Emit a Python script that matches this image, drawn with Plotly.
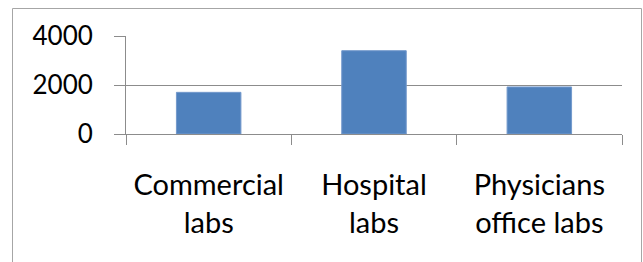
import plotly.graph_objects as go

categories = ["Commercial<br>labs", "Hospital<br>labs", "Physicians<br>office labs"]
values = [1700, 3400, 1920]
y_ticks = [0, 2000, 4000]

W, H = 643, 262
L, R, T, B = 126, 21, 36, 128
pw, ph = W - L - R, H - T - B

def px_x(x):
    return (x - L) / pw

def px_y(y):
    return (H - B - y) / ph

FONT = "Lato, Carlito, 'Open Sans', sans-serif"
GRID = "#8c8c8c"
TXT = "#000000"

fig = go.Figure(go.Bar(
    x=categories, y=values,
    marker=dict(color="#4f81bd", line=dict(color="#7399cc", width=1)),
))

fig.update_layout(
    template="none",
    width=W, height=H,
    margin=dict(l=L, r=R, t=T, b=B, pad=0, autoexpand=False),
    paper_bgcolor="white", plot_bgcolor="white",
    bargap=0.61,
    showlegend=False,
    font=dict(family=FONT, size=28, color=TXT),
    shapes=[dict(
        type="rect", xref="paper", yref="paper",
        x0=px_x(12.5), x1=px_x(641.5), y0=px_y(266), y1=px_y(8.5),
        line=dict(color="#a6a6a6", width=1), fillcolor="rgba(0,0,0,0)", layer="below",
    )],
)

fig.update_xaxes(
    type="category", range=[-0.5, 2.5], automargin=False,
    showline=True, linecolor=GRID, linewidth=1,
    ticks="outside", tickson="boundaries", ticklen=10, tickcolor=GRID, tickwidth=1,
    showgrid=False, ticklabelstandoff=25,
    tickfont=dict(family=FONT, size=29, color=TXT),
)
fig.update_yaxes(
    range=[0, 4000], tickvals=y_ticks, ticktext=[str(v) for v in y_ticks], automargin=False,
    showline=True, linecolor=GRID, linewidth=1,
    ticks="outside", ticklen=11, tickcolor=GRID, tickwidth=1,
    showgrid=True, gridcolor=GRID, gridwidth=1, zeroline=False,
    ticklabelstandoff=16,
    tickfont=dict(family=FONT, size=26, color=TXT),
)

fig.write_html(
    "out.html",
    config={"displayModeBar": False},
    post_script="document.body.style.margin='0';document.body.style.overflow='hidden';",
)
